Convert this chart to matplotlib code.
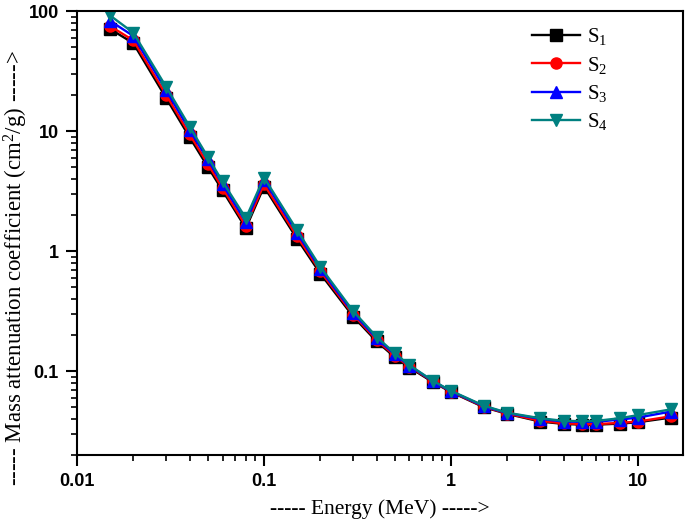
import matplotlib
matplotlib.use('Agg')
import matplotlib.pyplot as plt
from matplotlib.ticker import LogLocator, NullFormatter, FixedLocator, FixedFormatter

# Photon energies (MeV)
energy = [0.015, 0.02, 0.03, 0.04, 0.05, 0.06, 0.08, 0.1, 0.15, 0.2, 0.3, 0.4,
          0.5, 0.6, 0.8, 1, 1.5, 2, 3, 4, 5, 6, 8, 10, 15]

# Mass attenuation coefficients (cm^2/g)
s1 = [71, 54, 18.8, 8.9, 5.05, 3.2, 1.55, 3.45, 1.27, 0.65, 0.285, 0.177, 0.131,
      0.107, 0.081, 0.067, 0.050, 0.044, 0.038, 0.0363, 0.0358, 0.0358, 0.0365,
      0.0375, 0.041]
s2 = [75, 57, 20.0, 9.4, 5.35, 3.35, 1.62, 3.6, 1.33, 0.68, 0.295, 0.182, 0.134,
      0.109, 0.082, 0.0675, 0.0505, 0.0443, 0.0385, 0.0367, 0.0362, 0.0362, 0.037,
      0.038, 0.042]
s3 = [83, 62, 21.8, 10.2, 5.8, 3.6, 1.75, 3.9, 1.42, 0.71, 0.305, 0.187, 0.138,
      0.111, 0.0825, 0.068, 0.051, 0.0447, 0.040, 0.038, 0.0378, 0.0378, 0.0395,
      0.041, 0.046]
s4 = [92, 66, 23.3, 10.9, 6.1, 3.8, 1.88, 4.1, 1.5, 0.74, 0.316, 0.193, 0.141,
      0.112, 0.083, 0.0685, 0.0515, 0.045, 0.0405, 0.0385, 0.0383, 0.0385, 0.0405,
      0.043, 0.048]

x_ticks = [0.01, 0.1, 1, 10]
x_tick_labels = ['0.01', '0.1', '1', '10']
y_ticks = [0.1, 1, 10, 100]
y_tick_labels = ['0.1', '1', '10', '100']

plt.rcParams['mathtext.fontset'] = 'stix'

fig = plt.figure(figsize=(6.85, 5.26), dpi=100)
ax = fig.add_axes([0.1124, 0.135, 0.8846, 0.844])

series = [
    (s1, 'black', 's', '$\\mathregular{S_1}$'),
    (s2, 'red', 'o', '$\\mathregular{S_2}$'),
    (s3, 'blue', '^', '$\\mathregular{S_3}$'),
    (s4, '#008080', 'v', '$\\mathregular{S_4}$'),
]
for vals, color, marker, label in series:
    ax.plot(energy, vals, color=color, marker=marker, markersize=8,
            linewidth=1.7, label=label)

ax.set_xscale('log')
ax.set_yscale('log')
ax.set_xlim(0.01, 17.4)
ax.set_ylim(0.02, 100)

ax.xaxis.set_major_locator(FixedLocator(x_ticks))
ax.xaxis.set_major_formatter(FixedFormatter(x_tick_labels))
ax.yaxis.set_major_locator(FixedLocator(y_ticks))
ax.yaxis.set_major_formatter(FixedFormatter(y_tick_labels))
ax.xaxis.set_minor_locator(LogLocator(base=10, subs=range(2, 10), numticks=20))
ax.yaxis.set_minor_locator(LogLocator(base=10, subs=range(2, 10), numticks=20))
ax.xaxis.set_minor_formatter(NullFormatter())
ax.yaxis.set_minor_formatter(NullFormatter())

ax.tick_params(which='major', direction='out', length=8, width=1.5,
               top=False, right=False, pad=5)
ax.tick_params(which='minor', direction='out', length=4.5, width=1.2,
               top=False, right=False)
for lab in ax.get_xticklabels() + ax.get_yticklabels():
    lab.set_fontfamily('Liberation Sans')
    lab.set_fontweight('bold')
    lab.set_fontsize(13)
for sp in ax.spines.values():
    sp.set_linewidth(1.5)

ax.set_xlabel('----- Energy (MeV) ----->', fontfamily='Liberation Serif',
              fontsize=15.5)
ax.xaxis.set_label_coords(0.5, -0.1)
fig.text(16 / 685, 1 - 268 / 526,
         '----- Mass attenuation coefficient (cm$\\mathregular{^2}$/g) ----->',
         fontfamily='Liberation Serif', fontsize=16.5, rotation=90,
         ha='center', va='center')

ax.legend(loc='upper left', bbox_to_anchor=(0.72, 1.008), frameon=False,
          prop={'family': 'Liberation Serif', 'size': 15}, handlelength=2.3,
          labelspacing=0.35, handletextpad=0.35)

fig.savefig('out.png', dpi=100)
